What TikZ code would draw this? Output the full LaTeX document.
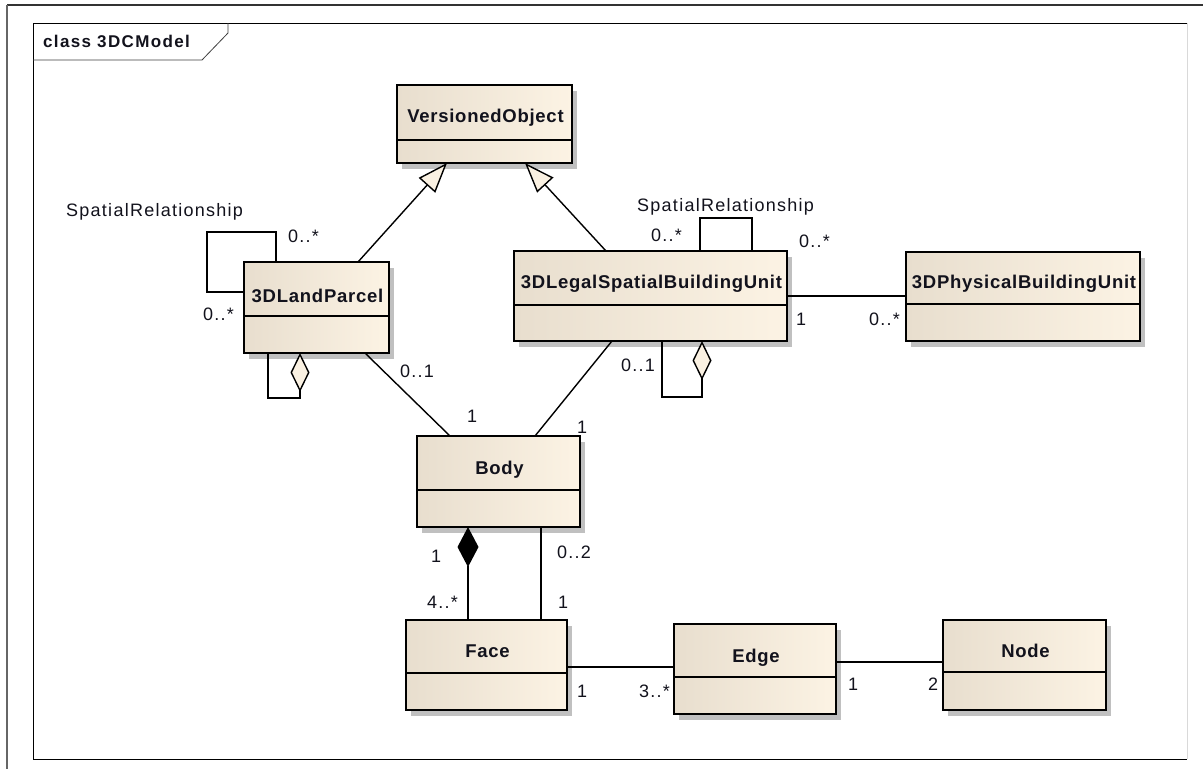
\documentclass[tikz,border=0pt]{standalone}
\usepackage{fontspec}
\setmainfont{Liberation Sans}
\newfontfamily\labelfont[LetterSpace=7]{Liberation Sans}
\newfontfamily\namefont[LetterSpace=4]{Liberation Sans}
\newfontfamily\titlefont[LetterSpace=8]{Liberation Sans}
\usetikzlibrary{arrows.meta,calc}

\definecolor{boxleft}{RGB}{232,222,206}
\definecolor{boxright}{RGB}{252,243,228}
\definecolor{shadowgray}{RGB}{192,192,192}
\definecolor{tipfill}{RGB}{250,241,226}
\definecolor{inkblack}{RGB}{18,18,28}

\tikzset{
  clsbox/.style={draw=black, line width=1.8pt, left color=boxleft, right color=boxright,
                 inner sep=0pt, outer sep=0pt},
  clsname/.style={font=\namefont\bfseries\fontsize{18.5}{22}\selectfont, inner sep=0pt,
                  anchor=base, text=inkblack},
  titletext/.style={font=\titlefont\bfseries\fontsize{17}{20}\selectfont, inner sep=0pt,
                  anchor=base west, text=inkblack},
  mult/.style={font=\labelfont\fontsize{18}{21}\selectfont, inner sep=0pt,
               anchor=base west, text=inkblack},
  assoc/.style={draw=black, line width=1.4pt},
  gen/.style={assoc, -{Triangle[length=30pt,width=22pt,fill=tipfill]}},
  aggr/.style={assoc, {Diamond[length=39pt,width=19pt,fill=tipfill]}-},
  comp/.style={assoc, {Diamond[length=40pt,width=21pt,fill=black]}-},
}

% #1 name, #2 left, #3 top, #4 right, #5 bottom, #6 divider, #7 name baseline, #8 class name
\newcommand\umlclass[8]{%
  \fill[shadowgray] ({#2+5},{#3+6}) rectangle ({#4+5},{#5+6});
  \node[clsbox, minimum width={#4-#2}, minimum height={#5-#3}] (#1) at ({(#2+#4)/2},{(#3+#5)/2}) {};
  \draw[line width=1.4pt] ({#2},{#6}) -- ({#4},{#6});
  \node[clsname] (#1-name) at ({(#2+#4)/2+1},{#7}) {#8};
}

\begin{document}
\begin{tikzpicture}[x=1pt,y=-1pt]
\useasboundingbox (0,0) rectangle (1203,769);
\fill[white] (0,0) rectangle (1203,769);

% outer sheet edges
\draw[line width=1.6pt, draw=black!80] (7,5) -- (1203,5);
\draw[line width=1.6pt, draw=black!60] (7,5) -- (7,769);

% diagram frame with its name tab
\draw[line width=1pt, black] (1187,23) -- (33,23) -- (33,759) -- (1187,759);
\draw[line width=1pt, black!15] (1187,23) -- (1187,759);
\draw[line width=0.8pt, black!75] (33,60) -- (202,60) -- (228,33) -- (228,23);
\node[titletext] (title) at (43,47) {class 3DCModel};

% classes
\umlclass{vo}{397}{85}{572}{163}{140}{122}{VersionedObject}
\umlclass{lp}{244}{262}{389}{353}{316}{302}{3DLandParcel}
\umlclass{ls}{514}{251}{787}{341}{305}{288}{3DLegalSpatialBuildingUnit}
\umlclass{phys}{906}{252}{1140}{341}{304}{288}{3DPhysicalBuildingUnit}
\umlclass{body}{417}{436}{580}{527}{490}{474}{Body}
\umlclass{face}{406}{620}{567}{710}{673}{657}{Face}
\umlclass{edge}{674}{624}{836}{714}{677}{662}{Edge}
\umlclass{nd}{943}{620}{1106}{710}{672}{657}{Node}

% generalisations
\draw[gen] ([xshift=41.5pt]lp.north) -- ([xshift=-37.5pt]vo.south);
\draw[gen] ([xshift=-44.5pt]ls.north) -- ([xshift=40.5pt]vo.south);

% reflexive spatial relationships
\draw[assoc] ([xshift=32pt]lp.north west) -- ++(0,-30) -- ++(-69,0) -- ++(0,60) -- ([yshift=-30pt]lp.north west);
\draw[assoc] ([xshift=186pt]ls.north west) -- ++(0,-33) -- ++(52,0) -- ([xshift=238pt]ls.north west);

% reflexive aggregations
\draw[aggr] ([xshift=56pt]lp.south west) -- ++(0,45) -- ++(-32,0) -- ([xshift=24pt]lp.south west);
\draw[aggr] ([xshift=188pt]ls.south west) -- ++(0,56) -- ++(-40,0) -- ([xshift=148pt]ls.south west);

% associations
\draw[assoc] ([xshift=121pt]lp.south west) -- ([xshift=33pt]body.north west);
\draw[assoc] ([xshift=98pt]ls.south west) -- ([xshift=118pt]body.north west);
\draw[assoc] (ls.east) -- (ls.east -| phys.west);
\draw[comp] ([xshift=51pt]body.south west) -- ([xshift=62pt]face.north west);
\draw[assoc] ([xshift=124pt]body.south west) -- ([xshift=135pt]face.north west);
\coordinate (fe) at ([yshift=-2pt]face.east);
\draw[assoc] (fe) -- (fe -| edge.west);
\coordinate (en) at ([yshift=7pt]edge.east);
\draw[assoc] (en) -- (en -| nd.west);

% role names and multiplicities
\node[mult] (srl) at (66,216) {SpatialRelationship};
\node[mult] (m1) at (288,242) {0..*};
\node[mult] (m2) at (203,320) {0..*};
\node[mult] (m3) at (400,377) {0..1};
\node[mult] (m4) at (467,422) {1};
\node[mult] (srr) at (637,211) {SpatialRelationship};
\node[mult] (m5) at (651,241) {0..*};
\node[mult] (m6) at (799,247) {0..*};
\node[mult] (m7) at (796,325) {1};
\node[mult] (m8) at (869,325) {0..*};
\node[mult] (m9) at (621,371) {0..1};
\node[mult] (m10) at (577,433) {1};
\node[mult] (m11) at (431,562) {1};
\node[mult] (m12) at (557,558) {0..2};
\node[mult] (m13) at (427,608) {4..*};
\node[mult] (m14) at (558,608) {1};
\node[mult] (m15) at (577,697) {1};
\node[mult] (m16) at (639,697) {3..*};
\node[mult] (m17) at (848,690) {1};
\node[mult] (m18) at (928,690) {2};
\end{tikzpicture}
\end{document}
